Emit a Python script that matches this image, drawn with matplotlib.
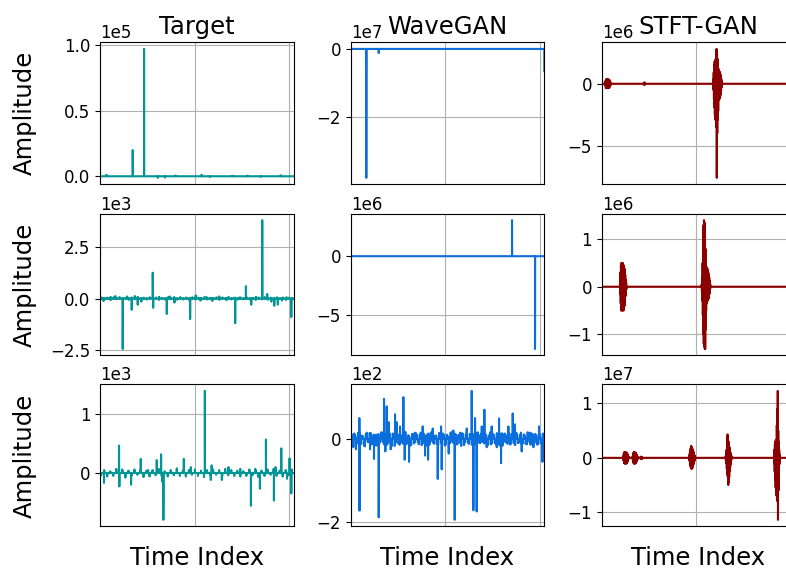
import numpy as np
import matplotlib
matplotlib.use("Agg")
import matplotlib.pyplot as plt

plt.rcParams["xtick.labelsize"] = 12
plt.rcParams["ytick.labelsize"] = 12

# signal length (samples) and panel grid
N = 16384
titles = ["Target", "WaveGAN", "STFT-GAN"]
colors = ["#009696", "#0a6fdc", "#8b0000"]
x_grid = [0, 8000, 16000]

# ---- Target, row 1 (x1e5)
tgt1_idx = [550, 2770, 3730, 4900, 5500, 6400, 8600, 9300, 11200, 12500, 13600, 15300]
tgt1_val = [0.012, 0.20, 0.97, -0.012, -0.01, 0.006, 0.012, -0.005, 0.004, 0.005, -0.004, 0.008]

# ---- Target, row 2 (x1e3)
tgt2_idx = [300, 900, 1300, 1924, 2300, 2687, 2950, 3195, 3500, 4466, 4500, 5000, 5653, 5900,
            6300, 6800, 7628, 8100, 8500, 9000, 9500, 10100, 10700, 11442, 11800, 12350,
            12800, 13200, 13731, 14150, 14500, 14750, 15050, 15400, 15800, 16190]
tgt2_val = [-0.12, 0.08, 0.12, -2.45, 0.1, -0.55, 0.12, -0.3, -0.15, 1.25, -0.45, 0.08, -0.75, 0.1,
            -0.2, 0.06, -1.0, 0.15, -0.1, 0.08, -0.12, 0.1, -0.08, -1.2, 0.05, 0.6,
            -0.3, 0.08, 3.8, 0.22, -0.15, -0.35, -0.3, -0.1, 0.06, -0.9]
tgt2_jitter = [0.05, -0.06, 0.04, -0.08, 0.06, -0.03, 0.07, -0.05, 0.03, -0.07, 0.05, -0.04, 0.08, -0.06, 0.04, -0.05,
               0.06, -0.04, 0.05, -0.07, 0.03, -0.05, 0.06, -0.03, 0.07, -0.06, 0.04, -0.05, 0.05, -0.08, 0.06, -0.04,
               0.04, -0.06, 0.07, -0.05, 0.03, -0.04, 0.06, -0.07, 0.05, -0.03, 0.08, -0.05, 0.04, -0.06, 0.05, -0.04,
               0.06, -0.05, 0.03, -0.07, 0.05, -0.04, 0.07, -0.06, 0.04, -0.05, 0.06, -0.03, 0.05, -0.07, 0.04, -0.06]

# ---- Target, row 3 (x1e3)
tgt3_idx = [340, 1610, 1640, 2630, 3450, 4070, 4805, 5170, 5260, 5365, 7095, 7690, 8875, 9380,
            9450, 10315, 10875, 11870, 12775, 13140, 13535, 14045, 14720, 14860, 15340, 15825,
            16045, 16190]
tgt3_val = [-0.17, 0.47, -0.23, -0.2, 0.24, 0.05, 0.22, 0.32, -0.15, -0.8, 0.24, 0.1, 1.4, -0.12,
            0.13, -0.12, 0.1, 0.07, -0.56, 0.07, -0.27, 0.57, -0.47, 0.1, 0.42, -0.1,
            0.25, -0.35]
tgt3_jitter = [-0.04, 0.05, -0.06, 0.03, -0.05, 0.07, -0.04, 0.06, -0.08, 0.04, -0.05, 0.06, -0.03, 0.05, -0.07, 0.04,
               -0.06, 0.05, -0.04, 0.07, -0.05, 0.03, -0.06, 0.05, -0.04, 0.08, -0.05, 0.04, -0.06, 0.05, -0.03, 0.06,
               -0.05, 0.04, -0.07, 0.05, -0.04, 0.06, -0.03, 0.05, -0.06, 0.07, -0.04, 0.05, -0.05, 0.04, -0.06, 0.03,
               -0.05, 0.06, -0.04, 0.05, -0.07, 0.04, -0.05, 0.06, -0.03, 0.07, -0.05, 0.04, -0.06, 0.05, -0.04, 0.06]

# ---- WaveGAN, row 1 (x1e7) and row 2 (x1e6)
wg1_idx = [1320, 2370, 16383]
wg1_val = [-3.78, -0.12, -0.65]
wg2_idx = [13650, 15597]
wg2_val = [3.05, -7.85]

# ---- WaveGAN, row 3 (x1e2)
wg3_idx = [223, 450, 730, 745, 1350, 1635, 1970, 2140, 2370, 2818, 2930, 3045, 3215, 3385, 3750,
           3890, 4175, 4455, 4570, 4935, 5440, 6090, 6290, 6545, 6940, 7365, 7645, 7700, 8295,
           8685, 8800, 9250, 9820, 10240, 10380, 10520, 10660, 11090, 11310, 11510, 11930,
           12360, 12550, 12720, 13340, 13710, 13900, 14470, 15175, 15460, 15935, 16225]
wg3_val = [-0.2, -0.25, 0.5, -1.72, 0.15, -0.25, -0.48, 0.1, -1.88, 0.96, -0.3, 0.78, 0.4, -0.25, 0.59,
           0.4, 0.3, 1.0, -0.5, -0.55, 0.15, 0.3, -0.4, -0.5, 0.25, -0.96, 0.3, -0.73, -0.35,
           0.2, -1.94, 0.15, 0.25, 1.15, -1.71, 0.5, -1.74, 0.3, 0.7, -0.2, 0.3,
           -0.2, 0.49, -0.58, 0.3, 0.61, 0.35, -0.3, 0.15, -0.2, 0.3, -0.55]
wg3_jitter = [0.12, -0.15, 0.08, -0.1, 0.16, -0.12, 0.06, -0.18, 0.1, -0.08, 0.14, -0.11, 0.09, -0.16, 0.12, -0.07,
              0.15, -0.13, 0.07, -0.1, 0.13, -0.17, 0.1, -0.09, 0.11, -0.14, 0.08, -0.12, 0.17, -0.1, 0.06, -0.15,
              0.12, -0.08, 0.1, -0.13, 0.15, -0.11, 0.09, -0.16, 0.13, -0.07, 0.11, -0.12, 0.08, -0.15, 0.14, -0.1,
              0.1, -0.14, 0.07, -0.11, 0.16, -0.09, 0.12, -0.13, 0.09, -0.17, 0.11, -0.08, 0.15, -0.12, 0.07, -0.1,
              0.13, -0.15, 0.1, -0.09, 0.12, -0.11, 0.08, -0.14, 0.16, -0.1, 0.09, -0.13, 0.11, -0.16, 0.14, -0.08,
              0.1, -0.12, 0.13, -0.1, 0.07, -0.15, 0.12, -0.09, 0.15, -0.11, 0.08, -0.13, 0.1, -0.14, 0.12, -0.1,
              0.09, -0.12, 0.11, -0.15]
wg3_jitter_b = [-0.1, 0.13, -0.09, 0.15, -0.12, 0.08, -0.16, 0.11, -0.07, 0.14, -0.13, 0.1, -0.15, 0.09, -0.11, 0.16,
                -0.08, 0.12, -0.14, 0.1, -0.09, 0.13, -0.17, 0.11, -0.12, 0.08, -0.1, 0.15, -0.13, 0.09, -0.16, 0.12,
                -0.11, 0.14, -0.08, 0.1, -0.15, 0.13, -0.09, 0.11, -0.14, 0.16, -0.1, 0.08, -0.12, 0.14, -0.09, 0.13,
                -0.16, 0.1, -0.11, 0.15, -0.08, 0.12, -0.13, 0.09, -0.1, 0.14, -0.15, 0.11, -0.09, 0.12, -0.14, 0.1,
                -0.12, 0.16, -0.1, 0.13, -0.08, 0.11, -0.15, 0.09, -0.13, 0.12, -0.1, 0.14, -0.11, 0.08, -0.16, 0.13,
                -0.09, 0.1, -0.14, 0.12, -0.11, 0.15, -0.1, 0.09, -0.13, 0.11, -0.12, 0.16, -0.08, 0.13, -0.1, 0.12,
                -0.14, 0.1, -0.11, 0.13]

# ---- STFT-GAN bursts: (first sample, sample step, values)
st1_bursts = [
    (290, 20, [0.1, -0.15, 0.25, -0.3, 0.35, -0.35, 0.35, -0.35, 0.35, -0.35, 0.3, -0.35, 0.35,
               -0.3, 0.35, -0.35, 0.3, -0.3, 0.3, -0.25, 0.25, -0.2, 0.15, -0.1, 0.05]),
    (3580, 20, [0.08, -0.1, 0.1, -0.08]),
    (9440, 20, [0.4, -0.5, 0.9, -1.2, 1.5, -1.9, 1.8, -2.5, 1.9, -2.9, 1.9, -2.8, 2.3, -3.5, 2.8,
                -7.56, 2.5, -4.0, 2.0, -2.9, 1.7, -2.2, 1.2, -1.3, 1.0, -1.25, 1.0, -1.2, 0.9,
                -1.1, 0.8, -0.9, 0.6, -0.6, 0.4, -0.3, 0.2, -0.1]),
]
st2_bursts = [
    (1550, 20, [0.1, -0.15, 0.3, -0.35, 0.45, -0.5, 0.5, -0.45, 0.5, -0.5, 0.48, -0.5, 0.5, -0.48,
                0.45, -0.5, 0.45, -0.45, 0.4, -0.4, 0.35, -0.3, 0.25, -0.2, 0.15, -0.12, 0.08, -0.05]),
    (8460, 20, [0.05, -0.1, 0.2, -0.3, 0.5, -0.6, 0.9, -1.0, 1.3, -1.2, 1.4, -1.25, 1.35, -1.3, 1.2,
                -1.31, 0.8, -0.9, 0.5, -0.5, 0.4, -0.35, 0.41, -0.3, 0.38, -0.3, 0.35, -0.28, 0.3,
                -0.25, 0.25, -0.2, 0.2, -0.15, 0.12, -0.1, 0.06, -0.03]),
]
st3_bursts = [
    (1830, 20, [0.03, -0.05, 0.08, -0.09, 0.1, -0.1, 0.11, -0.1, 0.1, -0.11, 0.1, -0.1, 0.1,
                -0.1, 0.09, -0.1, 0.08, -0.08, 0.07, -0.06, 0.05, -0.03, 0.02]),
    (2620, 20, [0.03, -0.05, 0.07, -0.09, 0.1, -0.1, 0.1, -0.11, 0.1, -0.1, 0.1, -0.1, 0.09,
                -0.1, 0.09, -0.08, 0.07, -0.06, 0.05, -0.04, 0.03, -0.02]),
    (3300, 20, [0.02, -0.02, 0.02, -0.02, 0.015, -0.015, 0.01, -0.01]),
    (7410, 20, [0.03, -0.05, 0.08, -0.1, 0.13, -0.15, 0.18, -0.18, 0.22, -0.2, 0.2, -0.2, 0.18,
                -0.19, 0.16, -0.16, 0.14, -0.13, 0.11, -0.1, 0.08, -0.07, 0.05, -0.04, 0.03, -0.02]),
    (10490, 20, [0.03, -0.05, 0.08, -0.1, 0.15, -0.2, 0.25, -0.3, 0.43, -0.35, 0.35, -0.5, 0.3,
                 -0.45, 0.25, -0.35, 0.2, -0.25, 0.15, -0.18, 0.1, -0.12, 0.07, -0.06, 0.04, -0.02]),
    (14580, 20, [0.05, -0.1, 0.15, -0.25, 0.25, -0.4, 0.3, -0.55, 0.33, -0.65, 0.33, -0.7, 0.6,
                 -0.69, 0.9, -0.8, 1.23, -1.14, 0.5, -0.6, 0.3, -0.3, 0.15, -0.12, 0.06, -0.03]),
]

scales = [[1e5, 1e7, 1e6], [1e3, 1e6, 1e6], [1e3, 1e2, 1e7]]
# y tick values, in the units of each panel's offset
yticks = [[[0, 0.5, 1.0], [-2, 0], [-5, 0]],
          [[-2.5, 0, 2.5], [-5, 0], [-1, 0, 1]],
          [[0, 1], [-2, 0], [-1, 0, 1]]]


def make_signal(idx=(), val=(), scale=1.0, bursts=(), jitters=()):
    sig = np.zeros(N)
    for start, step, vals in jitters:
        sig[start:start + step * len(vals):step] = vals
    for start, step, vals in bursts:
        sig[start:start + step * len(vals):step] = vals
    sig[list(idx)] = val
    return sig * scale


signals = [
    [make_signal(tgt1_idx, tgt1_val, scales[0][0]),
     make_signal(wg1_idx, wg1_val, scales[0][1]),
     make_signal(scale=scales[0][2], bursts=st1_bursts)],
    [make_signal(tgt2_idx, tgt2_val, scales[1][0], jitters=[(128, 256, tgt2_jitter)]),
     make_signal(wg2_idx, wg2_val, scales[1][1]),
     make_signal(scale=scales[1][2], bursts=st2_bursts)],
    [make_signal(tgt3_idx, tgt3_val, scales[2][0], jitters=[(100, 256, tgt3_jitter)]),
     make_signal(wg3_idx, wg3_val, scales[2][1],
                 jitters=[(60, 163, wg3_jitter), (140, 163, wg3_jitter_b)]),
     make_signal(scale=scales[2][2], bursts=st3_bursts)],
]

fig = plt.figure(figsize=(7.86, 5.73), dpi=100)
lefts = [0.1272, 0.4462, 0.7655]
bottoms = [0.6784, 0.3796, 0.0815]
w, h = 0.2463, 0.2475

for r in range(3):
    for c in range(3):
        ax = fig.add_axes([lefts[c], bottoms[r], w, h])
        ax.plot(np.arange(N), signals[r][c], color=colors[c], lw=1.5)
        ax.set_xlim(0, N - 1)
        ax.set_xticks(x_grid)
        ax.set_yticks([t * scales[r][c] for t in yticks[r][c]])
        ax.tick_params(axis="x", length=0, labelbottom=False)
        ax.ticklabel_format(axis="y", style="sci", scilimits=(0, 0))
        ax.grid(True)
        if r == 0:
            ax.set_title(titles[c], fontsize=17.5)
        if c == 0:
            ax.set_ylabel("Amplitude", fontsize=17.5)
            ax.yaxis.set_label_coords(-0.325, 0.5)
        if r == 2:
            ax.set_xlabel("Time Index", fontsize=17.5, labelpad=14)

fig.savefig("out.png", dpi=100)
